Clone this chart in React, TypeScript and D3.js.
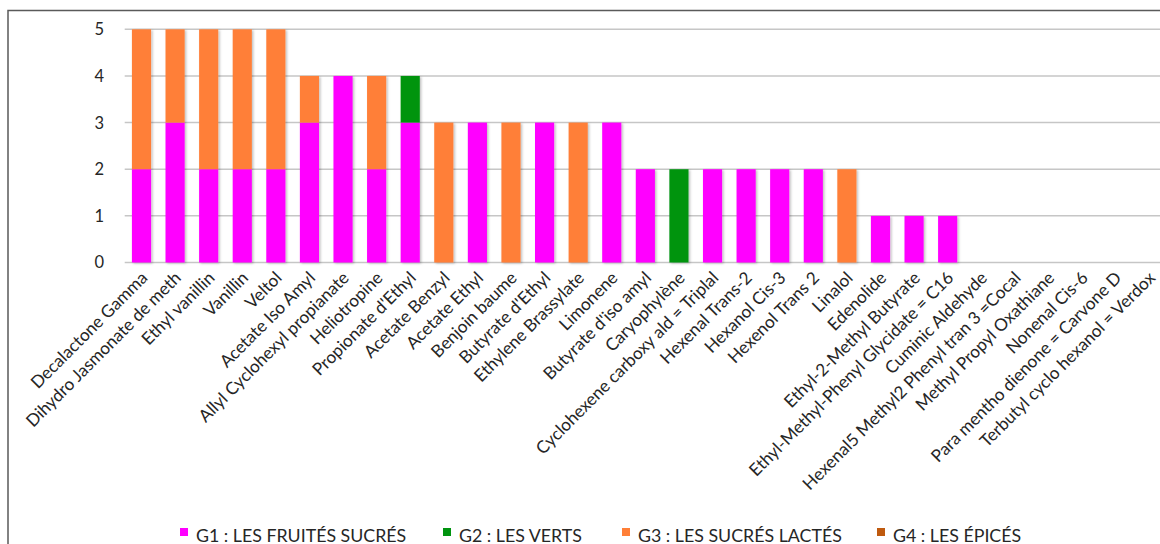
import React, { useEffect, useRef } from 'react';
import * as d3 from 'd3';

const categories = [
  'Decalactone Gamma', 'Dihydro Jasmonate de meth', 'Ethyl vanillin', 'Vanillin', 'Veltol',
  'Acetate Iso Amyl', 'Allyl Cyclohexyl propianate', 'Heliotropine', "Propionate d'Ethyl",
  'Acetate Benzyl', 'Acetate Ethyl', 'Benjoin baume', "Butyrate d'Ethyl", 'Ethylene Brassylate',
  'Limonene', "Butyrate d'iso amyl", 'Caryophylène', 'Cyclohexene carboxy ald = Triplal',
  'Hexenal Trans-2', 'Hexanol Cis-3', 'Hexenol Trans 2', 'Linalol', 'Edenolide',
  'Ethyl-2-Methyl Butyrate', 'Ethyl-Methyl-Phenyl Glycidate = C16', 'Cuminic Aldehyde',
  'Hexenal5 Methyl2 Phenyl tran 3 =Cocal', 'Methyl Propyl Oxathiane', 'Nonenal Cis-6',
  'Para mentho dienone = Carvone D', 'Terbutyl cyclo hexanol = Verdox',
];

const g1 = [2, 3, 2, 2, 2, 3, 4, 2, 3, 0, 3, 0, 3, 0, 3, 2, 0, 2, 2, 2, 2, 0, 1, 1, 1, 0, 0, 0, 0, 0, 0];
const g2 = [0, 0, 0, 0, 0, 0, 0, 0, 1, 0, 0, 0, 0, 0, 0, 0, 2, 0, 0, 0, 0, 0, 0, 0, 0, 0, 0, 0, 0, 0, 0];
const g3 = [3, 2, 3, 3, 3, 1, 0, 2, 0, 3, 0, 3, 0, 3, 0, 0, 0, 0, 0, 0, 0, 2, 0, 0, 0, 0, 0, 0, 0, 0, 0];
const g4 = [0, 0, 0, 0, 0, 0, 0, 0, 0, 0, 0, 0, 0, 0, 0, 0, 0, 0, 0, 0, 0, 0, 0, 0, 0, 0, 0, 0, 0, 0, 0];

const seriesKeys = ['g1', 'g2', 'g3', 'g4'];
const seriesLabels = ['G1 : LES FRUITÉS SUCRÉS', 'G2 : LES VERTS', 'G3 : LES SUCRÉS LACTÉS', 'G4 : LES ÉPICÉS'];
const seriesColors = ['#ff00ff', '#00940f', '#ff7f37', '#bf5a0f'];
const yTicks = [0, 1, 2, 3, 4, 5];

const FONT = 'Lato, "Open Sans", sans-serif';

export default function App() {
  const svgRef = useRef<SVGSVGElement>(null);

  useEffect(() => {
    if (!svgRef.current) return;
    const svg = d3.select(svgRef.current);
    svg.selectAll('*').remove();

    const rows = categories.map((c, i) => ({ cat: c, g1: g1[i], g2: g2[i], g3: g3[i], g4: g4[i] }));

    const x = d3.scaleBand<string>()
      .domain(categories)
      .range([124.7, 1166])
      .paddingInner(0.43)
      .paddingOuter(0.215);

    const y = d3.scaleLinear().domain([0, 5]).range([262.5, 29.3]);

    const defs = svg.append('defs');
    defs.append('filter')
      .attr('id', 'bar-shadow')
      .attr('x', '-20%').attr('y', '-5%').attr('width', '150%').attr('height', '115%')
      .append('feDropShadow')
      .attr('dx', 1.5).attr('dy', 1).attr('stdDeviation', 1)
      .attr('flood-color', '#000').attr('flood-opacity', 0.25);

    // frame
    svg.append('path')
      .attr('d', 'M8,544 L8,10.5 L1160,10.5')
      .attr('fill', 'none')
      .attr('stroke', '#5a5a5a')
      .attr('stroke-width', 1.5);

    // gridlines
    svg.append('g')
      .selectAll('line')
      .data(yTicks)
      .join('line')
      .attr('x1', 124.7)
      .attr('x2', 1160)
      .attr('y1', d => y(d))
      .attr('y2', d => y(d))
      .attr('stroke', '#c6c6c6')
      .attr('stroke-width', 1.5);

    // y labels
    svg.append('g')
      .selectAll('text')
      .data(yTicks)
      .join('text')
      .attr('x', 104)
      .attr('y', d => y(d))
      .attr('dy', '0.36em')
      .attr('text-anchor', 'end')
      .attr('font-family', FONT)
      .attr('font-size', 16.5)
      .attr('fill', '#262626')
      .text(d => d);

    // stacked bars
    const stacked = d3.stack<any>().keys(seriesKeys)(rows);
    svg.append('g')
      .attr('filter', 'url(#bar-shadow)')
      .selectAll('g')
      .data(stacked)
      .join('g')
      .attr('fill', (_, i) => seriesColors[i])
      .selectAll('rect')
      .data(d => d.filter(s => s[1] - s[0] > 0))
      .join('rect')
      .attr('x', d => x(d.data.cat)!)
      .attr('width', x.bandwidth())
      .attr('y', d => y(d[1]))
      .attr('height', d => y(d[0]) - y(d[1]));

    // category labels
    svg.append('g')
      .selectAll('text')
      .data(categories)
      .join('text')
      .attr('transform', d => `translate(${x(d)! + x.bandwidth() / 2 + 7},${279}) rotate(-45)`)
      .attr('text-anchor', 'end')
      .attr('font-family', FONT)
      .attr('font-size', 17.2)
      .attr('fill', '#262626')
      .text(d => d);

    // legend
    const legendX = [180, 443, 622, 877];
    const lg = svg.append('g')
      .selectAll('g')
      .data(seriesLabels)
      .join('g')
      .attr('transform', (_, i) => `translate(${legendX[i]},528)`);
    lg.append('rect')
      .attr('width', 8).attr('height', 8)
      .attr('fill', (_, i) => seriesColors[i]);
    lg.append('text')
      .attr('x', 16)
      .attr('y', 13.5)
      .attr('font-family', FONT)
      .attr('font-size', 17.8)
      .attr('fill', '#262626')
      .text(d => d);
  }, []);

  return (
    <div style={{ position: 'absolute', left: 0, top: 0, width: 1160, height: 544 }}>
      <svg ref={svgRef} width={1160} height={544} style={{ display: 'block', background: '#fff' }} />
    </div>
  );
}
